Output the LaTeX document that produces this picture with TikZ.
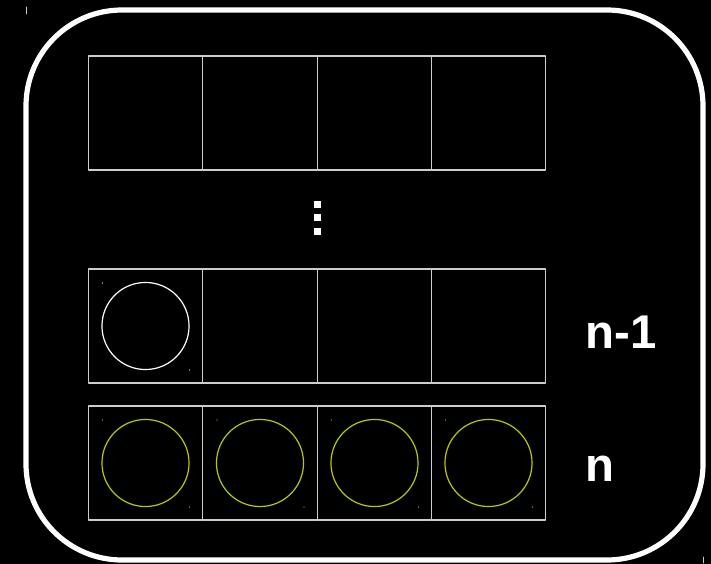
\documentclass[tikz,border=0pt]{standalone}
\usepackage{fontspec}
\setmainfont{Liberation Sans}
\definecolor{cellgray}{RGB}{205,205,205}
\definecolor{ballyellow}{RGB}{185,200,0}
\begin{document}
\begin{tikzpicture}[x=0.75pt,y=-0.75pt,line join=round,line cap=round]
	\tikzset{cell/.style={draw=cellgray,line width=0.9pt,minimum width=85.9pt,minimum height=85.5pt,inner sep=0pt,outer sep=0pt},
		ball/.style={circle,line width=0.9pt,minimum size=65.3pt,inner sep=0pt},
		lab/.style={text=white,font=\bfseries\fontsize{35.5}{40}\selectfont,anchor=base west,inner sep=0pt}}
	% fond noir
	\fill[black] (0,0) rectangle (711,564);
	\useasboundingbox (0,0) rectangle (711,564);
	% cadre arrondi
	\draw[white,line width=3.9pt,rounded corners=72pt] (26,10) rectangle (703,560);
	\draw[cellgray,line width=0.6pt] (26,7)--(26,14) (703,557)--(703,563);
	% les trois rangees de cases
	\foreach \r/\y in {1/113,2/326,3/463}{
		\foreach \c/\x in {1/145.5,2/260,3/374.5,4/488.5}{
			\node[cell] (c\r\c) at (\x,\y) {};
		}
	}
	% points de suspension
	\foreach \y in {204,217.5,231}
		\fill[white] (313.5,\y-3.5) rectangle (321,\y+3.5);
	% boules
	\node[ball,draw=white] (b21) at (c21) {};
	\foreach \c in {1,...,4}
		\node[ball,draw=ballyellow] (b3\c) at (c3\c) {};
	\foreach \b/\col in {b21/white,b31/ballyellow,b32/ballyellow,b33/ballyellow,b34/ballyellow}{
		\fill[\col] ([shift={(-43,-43)}]\b.center) circle (0.6);
		\fill[\col] ([shift={(44,44)}]\b.center) circle (0.6);
	}
	% numeros des rangees
	\node[lab] (nm1) at (585.5,348) {n-1};
	\node[lab] (nn) at (585.5,481) {n};
\end{tikzpicture}
\end{document}
